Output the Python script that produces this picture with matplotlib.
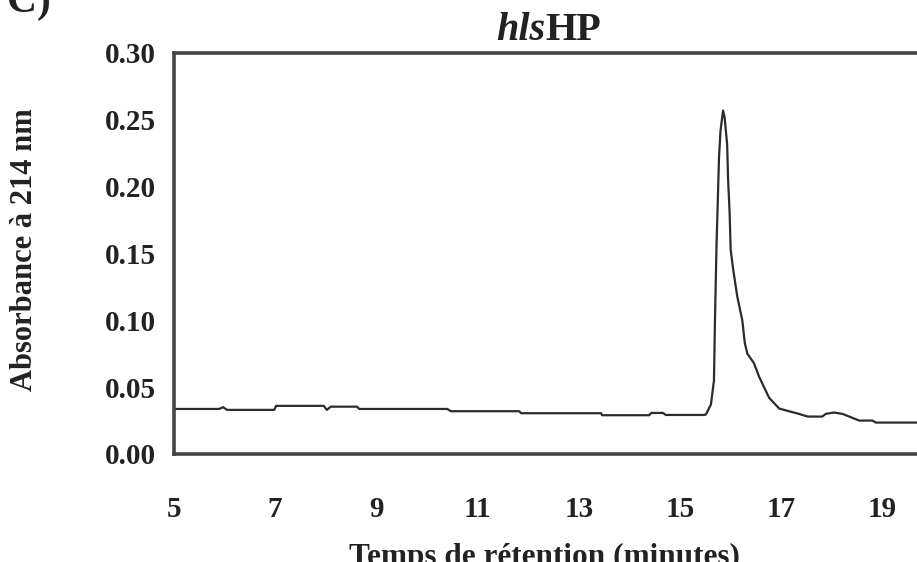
import matplotlib
matplotlib.use("Agg")
import matplotlib.pyplot as plt

temps = [5.00, 5.89, 5.97, 6.05, 6.98, 7.02, 7.96, 8.02, 8.10, 8.62, 8.66,
         10.40, 10.47, 11.82, 11.86, 13.44, 13.46, 14.39, 14.43, 14.66, 14.72,
         15.47, 15.51, 15.61, 15.67, 15.69, 15.72, 15.77, 15.80, 15.85, 15.88,
         15.93, 15.95, 15.98, 16.00, 16.05, 16.13, 16.23, 16.28, 16.33, 16.46,
         16.56, 16.76, 16.96, 17.15, 17.35, 17.52, 17.81, 17.88, 18.04, 18.21,
         18.54, 18.80, 18.87, 19.70]
absorbance = [0.0337, 0.0337, 0.0350, 0.0330, 0.0330, 0.0360, 0.0360, 0.0330,
              0.0354, 0.0354, 0.0337, 0.0337, 0.0320, 0.0320, 0.0305, 0.0305,
              0.0290, 0.0290, 0.0307, 0.0307, 0.0292, 0.0292, 0.0295, 0.0370,
              0.0550, 0.1000, 0.1550, 0.2220, 0.2420, 0.2570, 0.2520, 0.2320,
              0.2050, 0.1800, 0.1530, 0.1380, 0.1180, 0.1000, 0.0830, 0.0750,
              0.0680, 0.0580, 0.0420, 0.0340, 0.0320, 0.0300, 0.0280, 0.0280,
              0.0300, 0.0310, 0.0300, 0.0250, 0.0250, 0.0235, 0.0235]

x_ticks = [5, 7, 9, 11, 13, 15, 17, 19]
y_ticks = [0.00, 0.05, 0.10, 0.15, 0.20, 0.25, 0.30]

POLICE = "Liberation Serif"
COULEUR_TEXTE = "#222222"
COULEUR_TRAIT = "#2b2b2b"
COULEUR_CADRE = "#454545"

fig = plt.figure(figsize=(9.17, 5.62), dpi=100)
ax = fig.add_axes([0.1897, 0.1922, 0.8135, 0.7135])

ax.plot(temps, absorbance, color=COULEUR_TRAIT, linewidth=1.6)

ax.set_xlim(5, 19.74)
ax.set_ylim(0, 0.30)
ax.set_xticks(x_ticks)
ax.set_xticklabels([str(t) for t in x_ticks])
ax.set_yticks(y_ticks)
ax.set_yticklabels([f"{v:.2f}" for v in y_ticks])
ax.tick_params(axis="both", length=0, labelsize=21)
ax.tick_params(axis="x", pad=30)
ax.tick_params(axis="y", pad=13)
for lab in ax.get_xticklabels() + ax.get_yticklabels():
    lab.set_fontfamily(POLICE)
    lab.set_fontweight("bold")
    lab.set_color(COULEUR_TEXTE)

for cote in ax.spines.values():
    cote.set_linewidth(2.6)
    cote.set_color(COULEUR_CADRE)

# --- Titre de l'axe y ---
fig.text(25 / 917, 1 - 250 / 562, "Absorbance à 214 nm", fontfamily=POLICE,
         fontweight="bold", fontsize=22, rotation=90, ha="center",
         va="center", color=COULEUR_TEXTE)

# --- Titre : "hls" en italique gras, "HP" en gras ---
fig.text(0.5943, 0.9288, "hls", fontfamily=POLICE, fontweight="bold",
         fontstyle="italic", fontsize=29, ha="right", va="baseline",
         color=COULEUR_TEXTE)
fig.text(0.5943, 0.9288, "HP", fontfamily=POLICE, fontweight="bold",
         fontsize=29, ha="left", va="baseline", color=COULEUR_TEXTE)

# --- Titre de l'axe x (coupe en bas de l'image, comme l'original) ---
fig.text(0.594, 0.034, "Temps de rétention (minutes)", fontfamily=POLICE,
         fontweight="bold", fontsize=22.5, ha="center", va="top",
         color=COULEUR_TEXTE)

# --- Lettre de panneau (coupee en haut) ---
fig.text(0.008, 0.979, "C)", fontfamily=POLICE, fontweight="bold",
         fontsize=30, ha="left", va="baseline", color=COULEUR_TEXTE)

fig.savefig("out.png", dpi=100)
